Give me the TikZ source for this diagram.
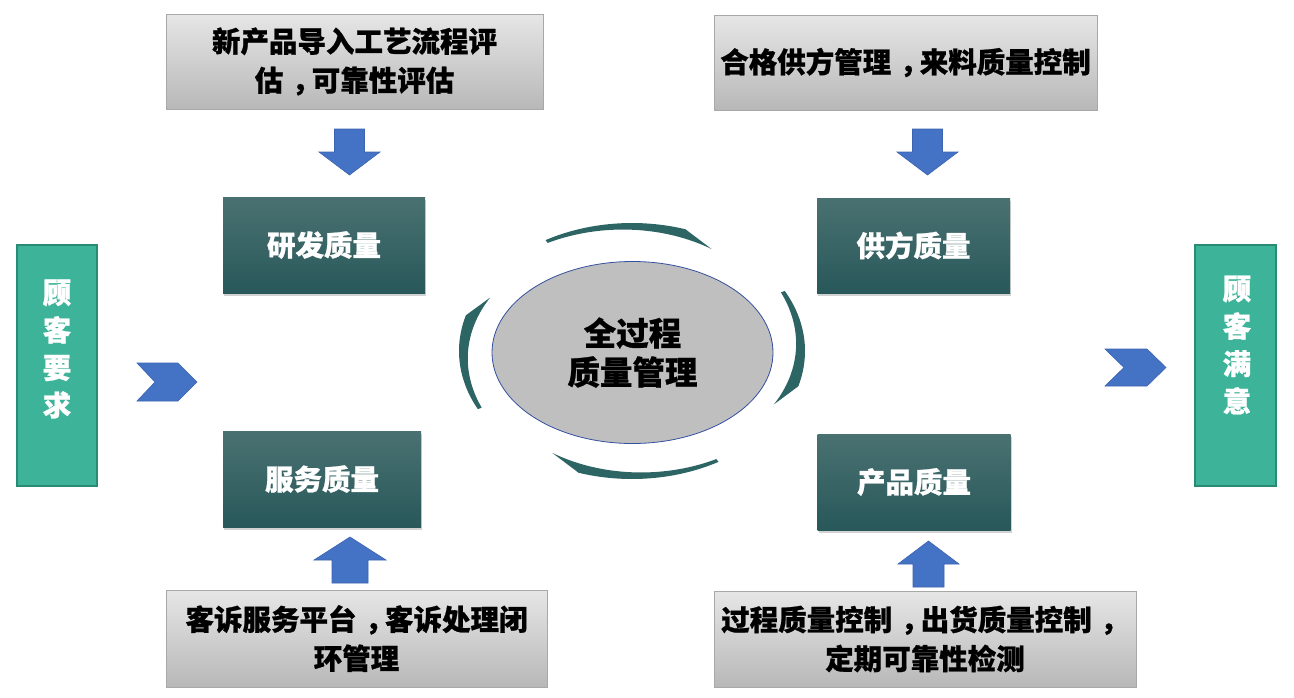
\documentclass[tikz,border=0pt]{standalone}
\usepackage{fontspec}
\setmainfont{Noto Sans CJK SC}[BoldFeatures={FakeBold=0.8}]
\usetikzlibrary{shadows,shapes.geometric}
\newcommand\zcomma{\hspace{0.3em}，\hspace{-0.3em}}
\definecolor{arrowblue}{HTML}{4472C4}
\definecolor{arrowedge}{HTML}{3C64B0}
\definecolor{graytop}{HTML}{E6E6E6}
\definecolor{graybot}{HTML}{B8B8B8}
\definecolor{grayedge}{HTML}{A8A8A8}
\definecolor{darktop}{HTML}{4A7171}
\definecolor{darkbot}{HTML}{28585A}
\definecolor{tealfill}{HTML}{3DB49A}
\definecolor{tealedge}{HTML}{2A8B74}
\definecolor{arcteal}{HTML}{2D6464}
\definecolor{ellfill}{HTML}{BFBFBF}
\definecolor{elledge}{HTML}{34509E}
\begin{document}
\begin{tikzpicture}[x=1pt,y=-1pt,
  cjkbig/.style={font=\bfseries\fontsize{28.5}{39}\selectfont},
  graybox/.style={draw=grayedge, line width=0.8pt, top color=graytop, bottom color=graybot,
    inner sep=0pt, align=center, cjkbig, text=black},
  qbox/.style={draw=none, top color=darktop, bottom color=darkbot, inner sep=0pt,
    align=center, cjkbig, text=white,
    drop shadow={opacity=0.35, shadow xshift=1pt, shadow yshift=-2.5pt}},
  tealbox/.style={draw=tealedge, line width=2pt, fill=tealfill, inner sep=0pt},
  tealtext/.style={align=center, text=white, inner sep=0pt,
    font=\bfseries\fontsize{28.5}{37.5}\selectfont},
  coreshape/.style={ellipse, draw=elledge, line width=0.8pt, fill=ellfill, inner sep=0pt,
    align=center, text=black, font=\bfseries\fontsize{32.5}{39}\selectfont},
  blockfill/.style={fill=arrowblue, draw=arrowedge, line width=0.6pt, line join=miter},
  pics/blockarrow/.style n args={4}{code={
    \filldraw[blockfill] (-#1,0) -- (#1,0) -- (#1,#3) -- (#2,#3) -- (0,#4)
      -- (-#2,#3) -- (-#1,#3) -- cycle;}},
  pics/crescent/.style 2 args={code={
    \pgfmathsetmacro\cmid{#1+0.8*((#2)-(#1))}
    \fill[arcteal] plot[domain=#1:\cmid, samples=40] ({173*cos(\x)},{-128*sin(\x)})
      -- ({0.92*173*cos(#2)},{-0.92*128*sin(#2)})
      -- plot[domain=#2:#1, samples=40]
        ({(0.92+0.055*(\x-(#2))/((#1)-(#2)))*173*cos(\x)},
         {-(0.92+0.055*(\x-(#2))/((#1)-(#2)))*128*sin(\x)})
      -- cycle;}}
]
\fill[white] (0,0) rectangle (1294,697);
\useasboundingbox (0,0) rectangle (1294,697);

% grey description boxes
\node[graybox, minimum width=377pt, minimum height=95pt] (g1) at (354.5,61.5)
  {新产品导入工艺流程评\\估\zcomma 可靠性评估};
\node[graybox, minimum width=383pt, minimum height=95pt] (g2) at (905.5,62.5)
  {合格供方管理\zcomma 来料质量控制};
\node[graybox, minimum width=381pt, minimum height=97pt] (g3) at (356.5,638.5)
  {客诉服务平台\zcomma 客诉处理闭\\环管理};
\node[graybox, minimum width=422pt, minimum height=96pt] (g4) at (925,639)
  {过程质量控制\zcomma 出货质量控制\zcomma\\定期可靠性检测};

% quality boxes
\node[qbox, minimum width=202pt, minimum height=96pt] (d1) at (324,245) {研发质量};
\node[qbox, minimum width=198pt, minimum height=96pt] (d2) at (322,479) {服务质量};
\node[qbox, minimum width=193pt, minimum height=95pt] (d3) at (913.5,245.5) {供方质量};
\node[qbox, minimum width=193pt, minimum height=96pt] (d4) at (914,482) {产品质量};

% customer boxes
\node[tealbox, minimum width=80pt, minimum height=241pt] (t1) at (57,365.5) {};
\node[tealtext] (t1txt) at (57,349) {顾\\客\\要\\求};
\node[tealbox, minimum width=81pt, minimum height=241pt] (t2) at (1235.5,365.5) {};
\node[tealtext] (t2txt) at (1237,345) {顾\\客\\满\\意};

% centre
\node[coreshape, minimum width=281pt, minimum height=182pt] (core) at (632.5,352.5)
  {全过程\\质量管理};

% cycle arcs
\pic at (632,351) {crescent={120}{60}};
\pic at (632,351) {crescent={28}{-27}};
\pic at (632,351) {crescent={-60}{-120}};
\pic at (632,351) {crescent={207}{153}};

% block arrows
\pic at (349.5,129) {blockarrow={15}{30.5}{23}{46}};
\pic at (927.5,129) {blockarrow={15}{30.5}{23}{46}};
\pic at (350,583) {blockarrow={18}{36}{-23}{-46}};
\pic at (928.5,587) {blockarrow={15.5}{30.5}{-23}{-46}};

% chevrons
\filldraw[blockfill] (137,363) -- (178,363) -- (197,382) -- (178,401) -- (137,401)
  -- (155,382) -- cycle;
\filldraw[blockfill] (1105,349) -- (1147,349) -- (1166,367.5) -- (1147,386) -- (1105,386)
  -- (1124,367.5) -- cycle;
\end{tikzpicture}
\end{document}
